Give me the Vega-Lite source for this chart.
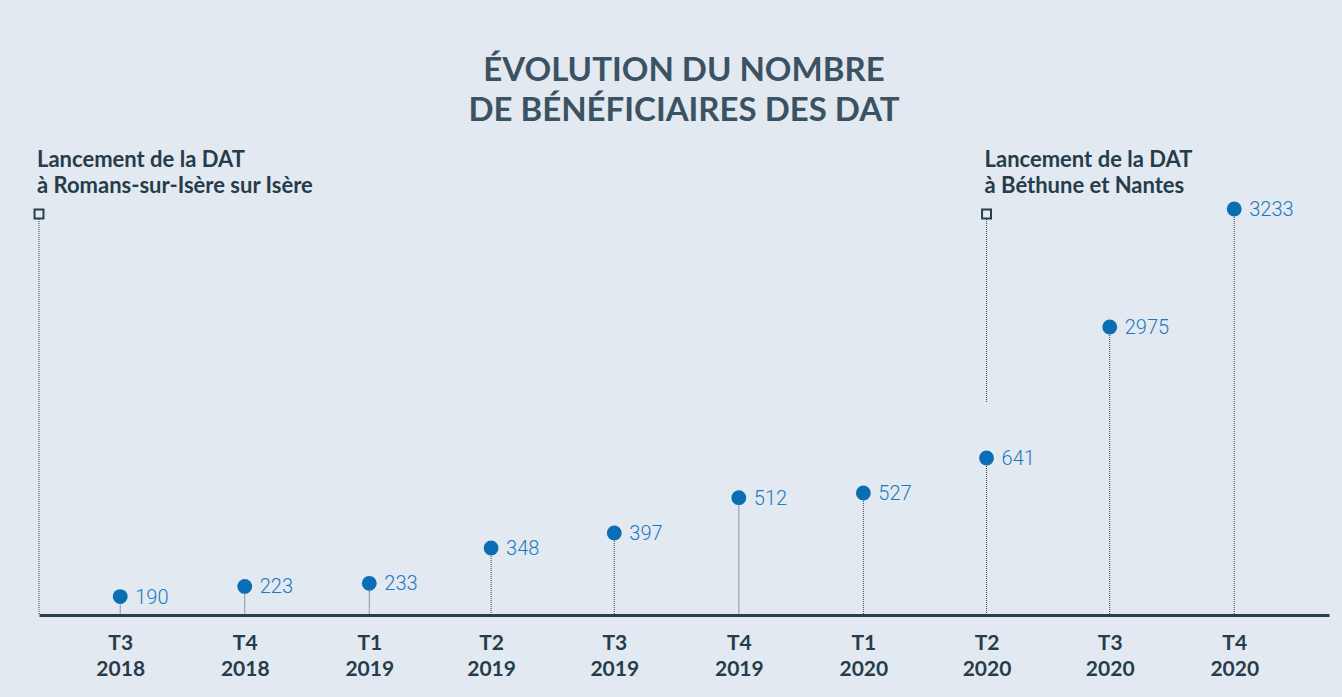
{
  "$schema": "https://vega.github.io/schema/vega-lite/v6.json",
  "width": 1290,
  "height": 475,
  "autosize": {"type": "none"},
  "padding": {"left": 39, "right": 13, "top": 140, "bottom": 82},
  "background": "#e3e9f0",
  "config": {"view": {"stroke": null}},
  "title": {
    "text": ["ÉVOLUTION DU NOMBRE", "DE BÉNÉFICIAIRES DES DAT"],
    "font": "Lato",
    "fontSize": 33,
    "fontWeight": "bold",
    "color": "#3b5262",
    "lineHeight": 40,
    "anchor": "middle",
    "offset": 12
  },
  "datasets": {
    "trimestres": [
      {"trimestre": "2018-07-01", "beneficiaires": 190},
      {"trimestre": "2018-10-01", "beneficiaires": 223},
      {"trimestre": "2019-01-01", "beneficiaires": 233},
      {"trimestre": "2019-04-01", "beneficiaires": 348},
      {"trimestre": "2019-07-01", "beneficiaires": 397},
      {"trimestre": "2019-10-01", "beneficiaires": 512},
      {"trimestre": "2020-01-01", "beneficiaires": 527},
      {"trimestre": "2020-04-01", "beneficiaires": 641},
      {"trimestre": "2020-07-01", "beneficiaires": 2975},
      {"trimestre": "2020-10-01", "beneficiaires": 3233}
    ],
    "lancements": [
      {"date": "2018-05-02", "haut": 3233, "bas": 130, "texte": "Lancement de la DAT\nà Romans-sur-Isère sur Isère"},
      {"date": "2020-04-01", "haut": 3233, "bas": 1620, "texte": "Lancement de la DAT\nà Béthune et Nantes"}
    ]
  },
  "layer": [
    {
      "data": {"name": "trimestres"},
      "mark": {"type": "rule", "color": "#33434e", "strokeWidth": 1, "strokeDash": [1, 1]},
      "encoding": {
        "x": {
          "field": "trimestre",
          "type": "temporal",
          "scale": {
            "type": "utc",
            "domain": [
              {"year": 2018, "month": 5, "date": 2, "utc": true},
              {"year": 2020, "month": 12, "date": 10, "utc": true}
            ],
            "nice": false
          },
          "axis": {
            "title": null,
            "values": [
              {"year": 2018, "month": 7, "date": 1, "utc": true},
              {"year": 2018, "month": 10, "date": 1, "utc": true},
              {"year": 2019, "month": 1, "date": 1, "utc": true},
              {"year": 2019, "month": 4, "date": 1, "utc": true},
              {"year": 2019, "month": 7, "date": 1, "utc": true},
              {"year": 2019, "month": 10, "date": 1, "utc": true},
              {"year": 2020, "month": 1, "date": 1, "utc": true},
              {"year": 2020, "month": 4, "date": 1, "utc": true},
              {"year": 2020, "month": 7, "date": 1, "utc": true},
              {"year": 2020, "month": 10, "date": 1, "utc": true}
            ],
            "labelExpr": "[utcFormat(datum.value, 'T%q'), utcFormat(datum.value, '%Y')]",
            "grid": false,
            "ticks": false,
            "domain": true,
            "domainColor": "#2b3e4c",
            "domainWidth": 3,
            "labelFont": "Lato",
            "labelFontSize": 21,
            "labelFontWeight": "bold",
            "labelColor": "#263c4a",
            "labelPadding": 17,
            "labelLineHeight": 26,
            "labelAlign": "center",
            "labelBaseline": "top",
            "labelOverlap": false,
            "labelFlush": false
          }
        },
        "y": {
          "field": "beneficiaires",
          "type": "quantitative",
          "scale": {
            "domain": [130, 641, 2975, 3233],
            "range": [475, 318, 187, 69],
            "zero": false,
            "nice": false
          },
          "axis": null
        },
        "y2": {"datum": 130}
      }
    },
    {
      "data": {"name": "trimestres"},
      "mark": {"type": "point", "shape": "circle", "filled": true, "size": 220, "color": "#0a6eb5", "opacity": 1},
      "encoding": {
        "x": {"field": "trimestre", "type": "temporal"},
        "y": {"field": "beneficiaires", "type": "quantitative"}
      }
    },
    {
      "data": {"name": "trimestres"},
      "mark": {"type": "text", "align": "left", "baseline": "middle", "dx": 15, "dy": 1, "font": "Roboto", "fontWeight": 300, "fontSize": 20, "color": "#1a7ac1"},
      "encoding": {
        "x": {"field": "trimestre", "type": "temporal"},
        "y": {"field": "beneficiaires", "type": "quantitative"},
        "text": {"field": "beneficiaires", "type": "quantitative", "format": "d"}
      }
    },
    {
      "data": {"name": "lancements"},
      "mark": {"type": "rule", "color": "#33434e", "strokeWidth": 1, "strokeDash": [1, 1]},
      "encoding": {
        "x": {"field": "date", "type": "temporal"},
        "y": {"field": "haut", "type": "quantitative"},
        "y2": {"field": "bas"}
      }
    },
    {
      "data": {"name": "lancements"},
      "mark": {"type": "point", "shape": "square", "filled": true, "fill": "#e3e9f0", "size": 80, "stroke": "#2b3e4c", "strokeWidth": 2, "opacity": 1, "yOffset": 5},
      "encoding": {
        "x": {"field": "date", "type": "temporal"},
        "y": {"field": "haut", "type": "quantitative"}
      }
    },
    {
      "data": {"name": "lancements"},
      "mark": {"type": "text", "align": "left", "baseline": "alphabetic", "lineBreak": "\n", "lineHeight": 26, "dx": -2, "dy": -42, "font": "Lato", "fontWeight": "bold", "fontSize": 22, "color": "#263c4a"},
      "encoding": {
        "x": {"field": "date", "type": "temporal"},
        "y": {"field": "haut", "type": "quantitative"},
        "text": {"field": "texte"}
      }
    }
  ]
}
